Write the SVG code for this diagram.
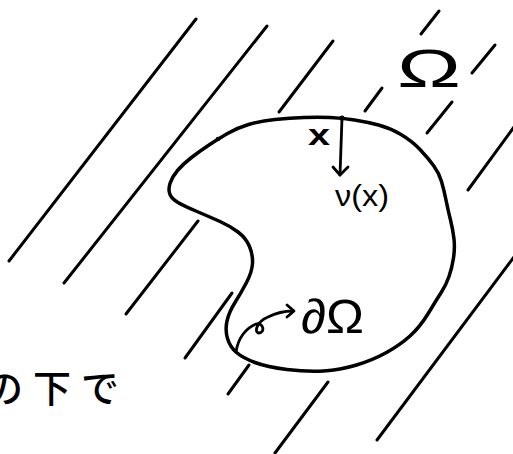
<svg xmlns="http://www.w3.org/2000/svg" width="513" height="454" viewBox="0 0 513 454">
  <style>
    .hatch { stroke: #000; stroke-width: 3; stroke-linecap: round; fill: none; }
    .outline { stroke: #000; stroke-width: 3.5; stroke-linecap: round; stroke-linejoin: round; fill: none; }
    .pen { stroke: #000; stroke-width: 2.8; stroke-linecap: round; stroke-linejoin: round; fill: none; }
    .lbl { font-family: "Liberation Sans", Arial, sans-serif; fill: #000; }
    .jp { font-family: "Noto Sans CJK JP", "Noto Sans CJK SC", sans-serif; fill: #000; font-weight: 500; }
  </style>
  <rect width="513" height="454" fill="#fff"/>

  <g id="hatching">
    <line class="hatch" x1="196" y1="19" x2="9" y2="261"/>
    <line class="hatch" x1="267" y1="26" x2="64" y2="283"/>
    <line class="hatch" x1="333" y1="41" x2="279" y2="112"/>
    <line class="hatch" x1="198" y1="221" x2="126" y2="314"/>
    <line class="hatch" x1="439" y1="11" x2="421" y2="34"/>
    <line class="hatch" x1="382" y1="88" x2="365" y2="111"/>
    <line class="hatch" x1="232" y1="293" x2="185" y2="358"/>
    <line class="hatch" x1="495" y1="45" x2="472" y2="73"/>
    <line class="hatch" x1="452" y1="102" x2="427" y2="133"/>
    <line class="hatch" x1="249" y1="365" x2="228" y2="394"/>
    <line class="hatch" x1="514" y1="127" x2="468" y2="190"/>
    <line class="hatch" x1="328" y1="382" x2="275" y2="453"/>
    <line class="hatch" x1="514" y1="257" x2="377" y2="440"/>
  </g>

  <g id="region">
    <path class="outline" d="M 330,117.5 Q 342,118 354.5,120 Q 367,122 378.5,125 Q 390,128 401,134.5 Q 412,141 420,149.5 Q 428,158 433.5,165.5 Q 439,173 441.5,181.5 Q 444,190 446,200 Q 448,210 450.5,220 Q 453,230 454,239 Q 455,248 453.5,258 Q 452,268 449,276.5 Q 446,285 441.5,292 Q 437,299 428.5,313 Q 420,327 410,336 Q 400,345 386.5,352.5 Q 373,360 356.5,365 Q 340,370 323.5,371 Q 307,372 287,369.5 Q 267,367 255,362.5 Q 243,358 236.5,352.5 Q 230,347 227.5,338.5 Q 225,330 227,321 Q 229,312 235,302.5 Q 241,293 246.5,282.5 Q 252,272 252.5,263.5 Q 253,255 249.5,246.5 Q 246,238 238,232 Q 230,226 220,221.5 Q 210,217 197,211.5 Q 184,206 178,202.5 Q 172,199 170,194.5 Q 168,190 170,183.5 Q 172,177 177.5,170.5 Q 183,164 191.5,157.5 Q 200,151 209,145 Q 218,139 227.5,133.5 Q 237,128 248.5,124.5 Q 260,121 275,119.5 Q 290,118 304,117.5 Q 318,117 330,117.5 Z"/>
    <circle cx="218" cy="139" r="2.3" fill="#000"/>
    <circle cx="342" cy="118" r="2.6" fill="#000"/>
  </g>

  <g id="connectors">
    <g id="normal-arrow">
      <line class="pen" x1="342" y1="118" x2="340" y2="175"/>
      <polyline class="pen" points="333,167 340,175 348,167"/>
    </g>
    <g id="boundary-arrow">
      <path class="pen" d="M236,352 C238,338 246,328 256,324 C264,322 265,333 259,333 C254,333 256,322 268,317 C276,313 284,311 293,311"/>
      <polyline class="pen" points="287,305 294,311 287,317"/>
    </g>
  </g>

  <g id="labels">
    <text id="label-omega" class="lbl" x="397" y="87" font-size="53" textLength="64" lengthAdjust="spacingAndGlyphs">Ω</text>
    <text id="label-boundary" class="lbl" x="301" y="333" font-size="48" textLength="63" lengthAdjust="spacingAndGlyphs">∂Ω</text>
    <text id="label-x" class="lbl" x="308" y="145" font-size="30" font-weight="bold" textLength="22" lengthAdjust="spacingAndGlyphs">x</text>
    <text id="label-nu" class="lbl" x="335" y="206" font-size="30" textLength="54" lengthAdjust="spacingAndGlyphs">ν(x)</text>
    <text id="label-jp" class="jp" x="-15" y="402" font-size="38" letter-spacing="10">の下で</text>
  </g>
</svg>
